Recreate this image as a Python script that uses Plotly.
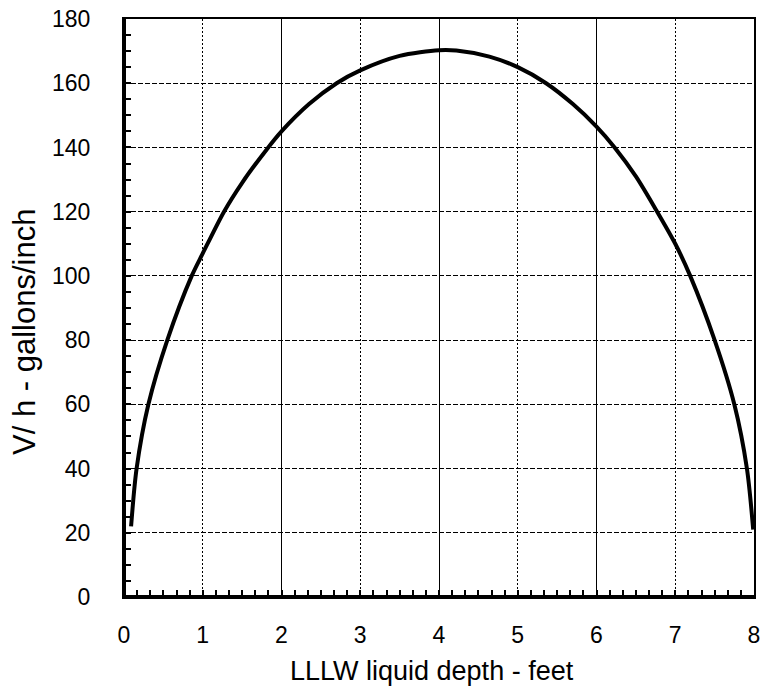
import plotly.graph_objects as go

# Data
depth_ft = [0.09, 0.16, 0.31, 0.55, 0.86, 1.0, 1.27, 1.5, 1.8, 2.0, 2.35, 2.7, 3.0, 3.5,
            4.0, 4.22, 4.64, 5.0, 5.36, 5.7, 6.0, 6.23, 6.5, 6.77, 7.0, 7.19, 7.5, 7.75, 7.91, 7.99]
v_per_h = [22, 40, 60, 80, 100, 107, 120, 129, 139, 145, 153.5, 160, 164, 168.5,
           170.3, 170.2, 168.3, 165, 160, 153.5, 146.5, 140, 131, 120, 110, 100, 80, 60, 40, 21]

x_ticks = [0, 1, 2, 3, 4, 5, 6, 7, 8]
y_ticks = [0, 20, 40, 60, 80, 100, 120, 140, 160, 180]

FONT = "Liberation Sans, Arial, sans-serif"

fig = go.Figure()
# invisible helper on primary axis
fig.add_trace(go.Scatter(x=depth_ft, y=v_per_h, mode="lines", line=dict(width=0, color="rgba(0,0,0,0)"),
                         hoverinfo="skip", showlegend=False, xaxis="x", yaxis="y"))
fig.add_trace(go.Scatter(x=depth_ft, y=v_per_h, mode="lines",
                         line=dict(color="black", width=4, shape="spline", smoothing=0.8),
                         showlegend=False, xaxis="x2", yaxis="y"))

fig.update_layout(
    width=764, height=693,
    margin=dict(l=124, r=10, t=19, b=96),
    paper_bgcolor="white", plot_bgcolor="white",
    font=dict(family=FONT, color="black"),
    xaxis=dict(
        range=[0, 8], tickvals=x_ticks, ticktext=[str(v) for v in x_ticks], automargin=False,
        showgrid=True, gridcolor="black", gridwidth=1, griddash="2px,2px",
        zeroline=False, showline=True, linecolor="black", linewidth=2, mirror=True,
        ticks="inside", ticklen=7, tickwidth=2, tickcolor="black",
        minor=dict(dtick=1/6, tick0=0, ticks="inside", ticklen=7, tickwidth=2, tickcolor="black", showgrid=False),
        tickfont=dict(size=23, family=FONT, color="black"), ticklabelstandoff=16,
        ticklabeloverflow="allow",
    ),
    xaxis2=dict(
        overlaying="x", matches="x", range=[0, 8], tickvals=[2, 4, 6], automargin=False,
        showgrid=True, gridcolor="black", gridwidth=1, griddash="solid",
        showticklabels=False, ticks="", zeroline=False, showline=False,
    ),
    yaxis=dict(
        range=[0, 180], tickvals=y_ticks, ticktext=[str(v) for v in y_ticks], automargin=False,
        showgrid=True, gridcolor="black", gridwidth=1, griddash="5px,2px",
        zeroline=False, showline=True, linecolor="black", linewidth=2, mirror=True,
        ticks="inside", ticklen=7, tickwidth=2, tickcolor="black",
        minor=dict(dtick=5, tick0=0, ticks="inside", ticklen=7, tickwidth=2, tickcolor="black", showgrid=False),
        tickfont=dict(size=23, family=FONT, color="black"), ticklabelstandoff=27,
        ticklabeloverflow="allow",
    ),
    shapes=[
        dict(type="line", xref="paper", yref="paper", x0=0, x1=0, y0=0, y1=1, line=dict(color="black", width=4)),
        dict(type="line", xref="paper", yref="paper", x0=0, x1=1, y0=0, y1=0, line=dict(color="black", width=4)),
    ],
    annotations=[
        dict(text="LLLW liquid depth - feet", xref="paper", yref="paper", x=(432 - 124) / 630, y=-(671 - 597) / 578,
             xanchor="center", yanchor="middle", showarrow=False, font=dict(size=27, family=FONT, color="black")),
        dict(text="V/ h - gallons/inch", xref="paper", yref="paper", x=-(124 - 24) / 630, y=(597 - 332) / 578,
             xanchor="center", yanchor="middle", textangle=-90, showarrow=False,
             font=dict(size=31, family=FONT, color="black")),
    ],
)

fig.write_html("out.html", config={"displayModeBar": False},
               post_script="document.body.style.margin='0';document.body.style.overflow='hidden';")
